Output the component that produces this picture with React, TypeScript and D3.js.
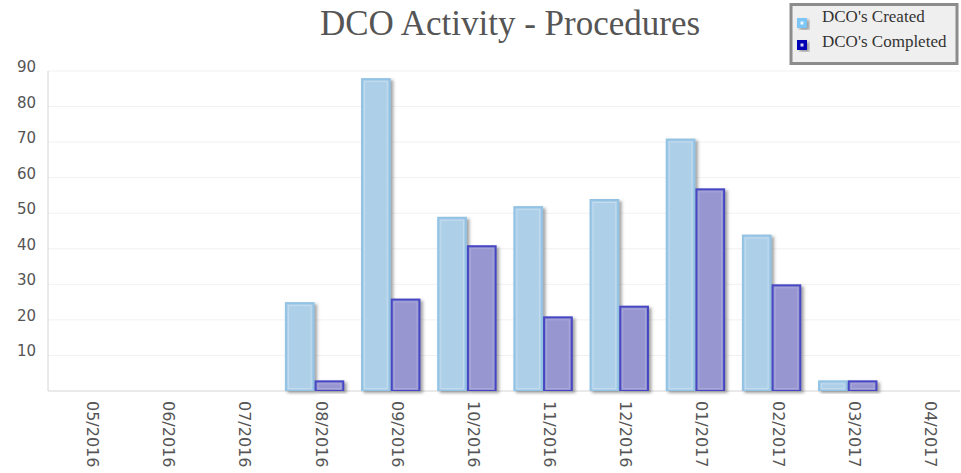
import * as d3 from 'd3';

const MONTHS = [
  '05/2016', '06/2016', '07/2016', '08/2016', '09/2016', '10/2016',
  '11/2016', '12/2016', '01/2017', '02/2017', '03/2017', '04/2017',
];
const CREATED = [0, 0, 0, 25, 88, 49, 52, 54, 71, 44, 3, 0];
const COMPLETED = [0, 0, 0, 3, 26, 41, 21, 24, 57, 30, 3, 0];
const Y_TICKS = [10, 20, 30, 40, 50, 60, 70, 80, 90];

const SERIES = [
  { key: 'created', name: "DCO's Created", values: CREATED, fill: '#aecfe8', stroke: '#92c3e4', hi: '#c3dcef', legend: '#7cc6f6' },
  { key: 'completed', name: "DCO's Completed", values: COMPLETED, fill: '#9796d0', stroke: '#4646c4', hi: '#a9a8da', legend: '#0000b4' },
];

const W = 961;
const H = 473;

export default function App() {
  const margin = { left: 48, right: 962, top: 71, bottom: 391 };

  const x0 = d3.scaleBand<string>().domain(MONTHS)
    .range([margin.left, margin.right]).paddingInner(0.22).paddingOuter(0.11);
  const x1 = d3.scaleBand<string>().domain(SERIES.map(s => s.key))
    .range([0, x0.bandwidth()]);
  const y = d3.scaleLinear().domain([0, 90]).range([margin.bottom, margin.top]);

  // legend rows: marker top / text baseline
  const legendRows = [{ m: 18, t: 22 }, { m: 40, t: 46.5 }];

  return (
    <svg width={W} height={H} style={{ position: 'absolute', left: 0, top: 0, background: '#fff' }}>
      <defs>
        <filter id="shadow" x="-30%" y="-10%" width="160%" height="130%">
          <feDropShadow dx="2.5" dy="2" stdDeviation="1.4" floodColor="#666" floodOpacity="0.6" />
        </filter>
      </defs>

      {/* title */}
      <text x={510} y={35} textAnchor="middle" fontFamily="Liberation Serif, serif" fontSize={35} fill="#555">
        DCO Activity - Procedures
      </text>

      {/* grid */}
      {Y_TICKS.map(t => (
        <line key={t} x1={margin.left} x2={960} y1={y(t)} y2={y(t)} stroke="#f1f1f1" strokeWidth={1} />
      ))}

      {/* y labels */}
      {Y_TICKS.map(t => (
        <text key={t} x={36} y={y(t) + 1} textAnchor="end" fontFamily="DejaVu Sans, sans-serif" fontSize={15} fill="#555">
          {t}
        </text>
      ))}

      {/* axes */}
      <line x1={margin.left} x2={margin.left} y1={margin.top} y2={margin.bottom} stroke="#d4d4d4" />
      <line x1={margin.left} x2={960} y1={margin.bottom} y2={margin.bottom} stroke="#d4d4d4" />

      {/* bars */}
      {MONTHS.map((m, i) => (
        <g key={m} transform={`translate(${x0(m)},0)`}>
          {SERIES.map(s => {
            const v = s.values[i];
            if (!v) return null;
            const bx = x1(s.key)!;
            const bw = x1.bandwidth();
            const top = y(v);
            const h = y(0) - top;
            return (
              <g key={s.key}>
                <rect x={bx} y={top} width={bw} height={h} fill={s.stroke} filter="url(#shadow)" />
                <rect x={bx + 2} y={top + 2} width={bw - 4} height={Math.max(0, h - 3)} fill={s.fill} />
                <rect x={bx + 3.5} y={top + 3.5} width={bw - 7} height={Math.max(0, h - 6)} fill="none" stroke={s.hi} strokeWidth={1} />
              </g>
            );
          })}
        </g>
      ))}

      {/* x labels */}
      {MONTHS.map(m => {
        const cx = x0(m)! + x0.bandwidth() / 2 + 1;
        return (
          <text key={m} transform={`translate(${cx},401) rotate(90)`} fontFamily="DejaVu Sans, sans-serif" fontSize={16} fill="#555">
            {m}
          </text>
        );
      })}

      {/* legend */}
      <g>
        <rect x={791} y={4.5} width={166} height={59} fill="#efefef" stroke="#8c8c8c" strokeWidth={3} />
        {SERIES.map((s, i) => (
          <g key={s.key}>
            <rect x={797} y={legendRows[i].m} width={10} height={10} fill={s.legend} filter="url(#shadow)" />
            <rect x={800.5} y={legendRows[i].m + 3.5} width={3} height={3} fill="#fff" opacity={0.85} />
            <text x={822} y={legendRows[i].t} fontFamily="Liberation Serif, serif" fontSize={17} fill="#333">
              {s.name}
            </text>
          </g>
        ))}
      </g>
    </svg>
  );
}
